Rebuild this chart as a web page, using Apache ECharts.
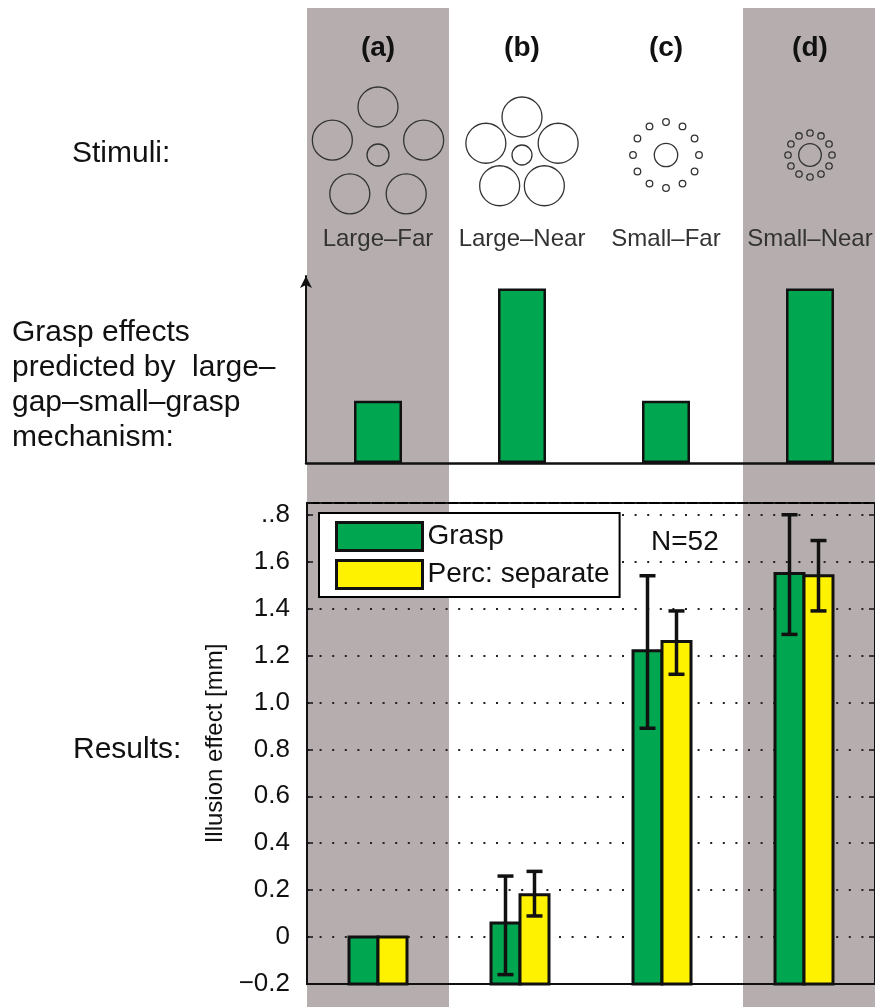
<!DOCTYPE html>
<html><head><meta charset="utf-8">
<script src="https://cdn.jsdelivr.net/npm/echarts@6/dist/echarts.min.js"></script>
<style>html,body{margin:0;padding:0;background:#fff}#c{width:875px;height:1007px}</style>
</head><body><div id="c"></div>
<script>
// ---- data ----
const categories = ['a', 'b', 'c', 'd'];
const panelLabels = ['(a)', '(b)', '(c)', '(d)'];
const stimulusNames = ['Large–Far', 'Large–Near', 'Small–Far', 'Small–Near'];
const predictedEffect = [1.0, 2.8, 1.0, 2.8];
const graspMean = [0, 0.06, 1.22, 1.55];
const graspLow  = [0, -0.16, 0.89, 1.29];
const graspHigh = [0, 0.26, 1.54, 1.80];
const percMean  = [0, 0.18, 1.26, 1.54];
const percLow   = [0, 0.09, 1.12, 1.39];
const percHigh  = [0, 0.28, 1.39, 1.69];
const seriesNames = ['Grasp', 'Perc: separate'];
const sampleNote = 'N=52';
const yMin = -0.2, yMax = 1.85, yStep = 0.2;
// stimulus geometry: flanker ring radius, flanker radius, flanker count, centre radius
const stimuli = [
  { ring: 48, flank: 20, n: 5, centre: 11 },
  { ring: 38, flank: 20, n: 5, centre: 10 },
  { ring: 33, flank: 3.3, n: 12, centre: 11.7 },
  { ring: 22, flank: 3.2, n: 12, centre: 11.3 }
];

const FONT = '"Liberation Sans", Arial, Helvetica, sans-serif';
const GREEN = '#00a650', YELLOW = '#fff200', GRAY = '#b6aeae';
const BARW = 29;

const chart = echarts.init(document.getElementById('c'), null, { renderer: 'canvas' });

function yLabel(v) {
  if (Math.abs(v - 1.8) < 1e-6) return '..8';
  if (v > 1.81) return '';
  if (Math.abs(v) < 1e-6) return '0';
  return v.toFixed(1).replace('-', '−');
}

// bars grow from the bottom of the axis (yMin), as in the reference
function barSeries(name, values, color, side) {
  return {
    type: 'custom', name: name, xAxisIndex: 1, yAxisIndex: 1, z: 3,
    itemStyle: { color: color, borderColor: '#111', borderWidth: 3 },
    encode: { x: 0, y: 1 },
    data: values.map((v, i) => [i, v]),
    renderItem: function (params, api) {
      const top = api.coord([api.value(0), api.value(1)]);
      const base = api.coord([api.value(0), yMin]);
      const x = side < 0 ? top[0] - BARW : top[0];
      return { type: 'rect', shape: { x: x, y: top[1], width: BARW, height: base[1] - top[1] },
        style: { fill: color, stroke: '#111', lineWidth: 3 } };
    }
  };
}

function errorSeries(name, lows, highs, offset) {
  return {
    type: 'custom', name: name + ' err', xAxisIndex: 1, yAxisIndex: 1, z: 5,
    encode: { x: 0, y: [1, 2] },
    data: categories.map((c, i) => [i, lows[i], highs[i]]),
    renderItem: function (params, api) {
      const lo = api.value(1), hi = api.value(2);
      if (hi - lo < 1e-9) return null;
      const p0 = api.coord([api.value(0), lo]);
      const p1 = api.coord([api.value(0), hi]);
      const x = p0[0] + offset, cw = 8;
      const st = { stroke: '#111', lineWidth: 3.5 };
      return { type: 'group', children: [
        { type: 'line', shape: { x1: x, y1: p0[1], x2: x, y2: p1[1] }, style: st },
        { type: 'line', shape: { x1: x - cw, y1: p0[1], x2: x + cw, y2: p0[1] }, style: st },
        { type: 'line', shape: { x1: x - cw, y1: p1[1], x2: x + cw, y2: p1[1] }, style: st }
      ]};
    }
  };
}

const option = {
  animation: false,
  backgroundColor: '#fff',
  textStyle: { fontFamily: FONT },
  grid: [
    { left: 306, top: 276, width: 576, bottom: 544, outerBoundsMode: 'none', containLabel: false },
    { left: 307, top: 503, right: 0, bottom: 23, outerBoundsMode: 'none', containLabel: false,
      show: true, borderColor: '#000', borderWidth: 2, backgroundColor: 'transparent' }
  ],
  legend: {
    data: seriesNames, orient: 'vertical', left: 319, top: 513,
    icon: 'rect', itemWidth: 86, itemHeight: 28, itemGap: 7,
    padding: [8, 10, 7, 16], backgroundColor: '#fff', borderColor: '#000', borderWidth: 2,
    textStyle: { fontSize: 28, color: '#111', fontFamily: FONT },
    itemStyle: { borderColor: '#111', borderWidth: 3 }, z: 10
  },
  xAxis: [
    { type: 'category', gridIndex: 0, data: categories,
      axisLine: { onZero: false, lineStyle: { color: '#111', width: 2.5 } },
      axisTick: { show: false }, axisLabel: { show: false }, splitLine: { show: false } },
    { type: 'category', gridIndex: 1, data: categories,
      axisLine: { onZero: false, lineStyle: { color: '#111', width: 2 } },
      axisTick: { show: false }, axisLabel: { show: false }, splitLine: { show: false } }
  ],
  yAxis: [
    { type: 'value', gridIndex: 0, min: 0, max: 3,
      axisLine: { show: true, symbol: ['none', 'arrow'], symbolSize: [9, 12], lineStyle: { color: '#111', width: 2 } },
      axisTick: { show: false }, axisLabel: { show: false }, splitLine: { show: false } },
    { type: 'value', gridIndex: 1, min: yMin, max: yMax, interval: yStep,
      name: 'Illusion effect [mm]', nameLocation: 'middle', nameGap: 80, nameRotate: 90,
      nameTextStyle: { fontSize: 24, color: '#111', fontFamily: FONT },
      axisLine: { show: true, lineStyle: { color: '#111', width: 2 } },
      axisTick: { show: true, inside: true, length: 6, lineStyle: { color: '#111', width: 1.5 } },
      axisLabel: { fontSize: 26, color: '#111', margin: 17, fontFamily: FONT, formatter: yLabel, showMaxLabel: true },
      splitLine: { show: true, lineStyle: { color: '#222', width: 2, type: [2, 10.6] } } },
    { type: 'value', gridIndex: 1, min: yMin, max: yMax, interval: yStep, position: 'right',
      axisLine: { show: true, lineStyle: { color: '#111', width: 2 } },
      axisTick: { show: true, inside: true, length: 6, lineStyle: { color: '#111', width: 1.5 } },
      axisLabel: { show: false }, splitLine: { show: false } }
  ],
  series: [
    { type: 'bar', name: 'predicted', xAxisIndex: 0, yAxisIndex: 0, data: predictedEffect, barWidth: 48,
      itemStyle: { color: GREEN, borderColor: '#111', borderWidth: 2.5 } },
    barSeries(seriesNames[0], graspMean, GREEN, -1),
    barSeries(seriesNames[1], percMean, YELLOW, 1),
    errorSeries(seriesNames[0], graspLow, graspHigh, -BARW / 2),
    errorSeries(seriesNames[1], percLow, percHigh, BARW / 2)
  ]
};
chart.setOption(option);

// ---- decorations: grey columns, headers, stimulus drawings, row titles ----
const els = [];
els.push({ type: 'rect', z: -10, shape: { x: 307, y: 8, width: 142, height: 1000 }, style: { fill: GRAY }, silent: true });
els.push({ type: 'rect', z: -10, shape: { x: 743, y: 8, width: 140, height: 1000 }, style: { fill: GRAY }, silent: true });

categories.forEach((c, i) => {
  const cx = chart.convertToPixel({ xAxisIndex: 0 }, c);
  els.push({ type: 'text', z: 5, style: { text: panelLabels[i], x: cx, y: 48, textAlign: 'center', align: 'center',
    textVerticalAlign: 'middle', verticalAlign: 'middle', font: 'bold 28px ' + FONT, fill: '#111' } });
  els.push({ type: 'text', z: 5, style: { text: stimulusNames[i], x: cx, y: 239, textAlign: 'center', align: 'center',
    textVerticalAlign: 'middle', verticalAlign: 'middle', font: '24px ' + FONT, fill: '#333' } });
  const s = stimuli[i], cy = 155;
  const st = { fill: 'none', stroke: '#333', lineWidth: 1.3 };
  els.push({ type: 'circle', z: 5, shape: { cx: cx, cy: cy, r: s.centre }, style: st });
  for (let k = 0; k < s.n; k++) {
    const a = -Math.PI / 2 + k * 2 * Math.PI / s.n;
    els.push({ type: 'circle', z: 5, shape: { cx: cx + s.ring * Math.cos(a), cy: cy + s.ring * Math.sin(a), r: s.flank }, style: st });
  }
});

const rowText = (t, x, y) => ({ type: 'text', z: 5, style: { text: t, x: x, y: y, textAlign: 'left', align: 'left',
  textVerticalAlign: 'middle', verticalAlign: 'middle', font: '30px ' + FONT, fill: '#111' } });
els.push(rowText('Stimuli:', 72, 154));
els.push(rowText('Grasp effects', 12, 333));
els.push(rowText('predicted by  large–', 12, 368));
els.push(rowText('gap–small–grasp', 12, 403));
els.push(rowText('mechanism:', 12, 438));
els.push(rowText('Results:', 73, 750));
els.push({ type: 'text', z: 6, style: { text: sampleNote, x: 651, y: 542, textAlign: 'left', align: 'left',
  textVerticalAlign: 'middle', verticalAlign: 'middle', font: '28px ' + FONT, fill: '#111' } });

chart.setOption({ graphic: { elements: els } });
</script>
</body></html>
